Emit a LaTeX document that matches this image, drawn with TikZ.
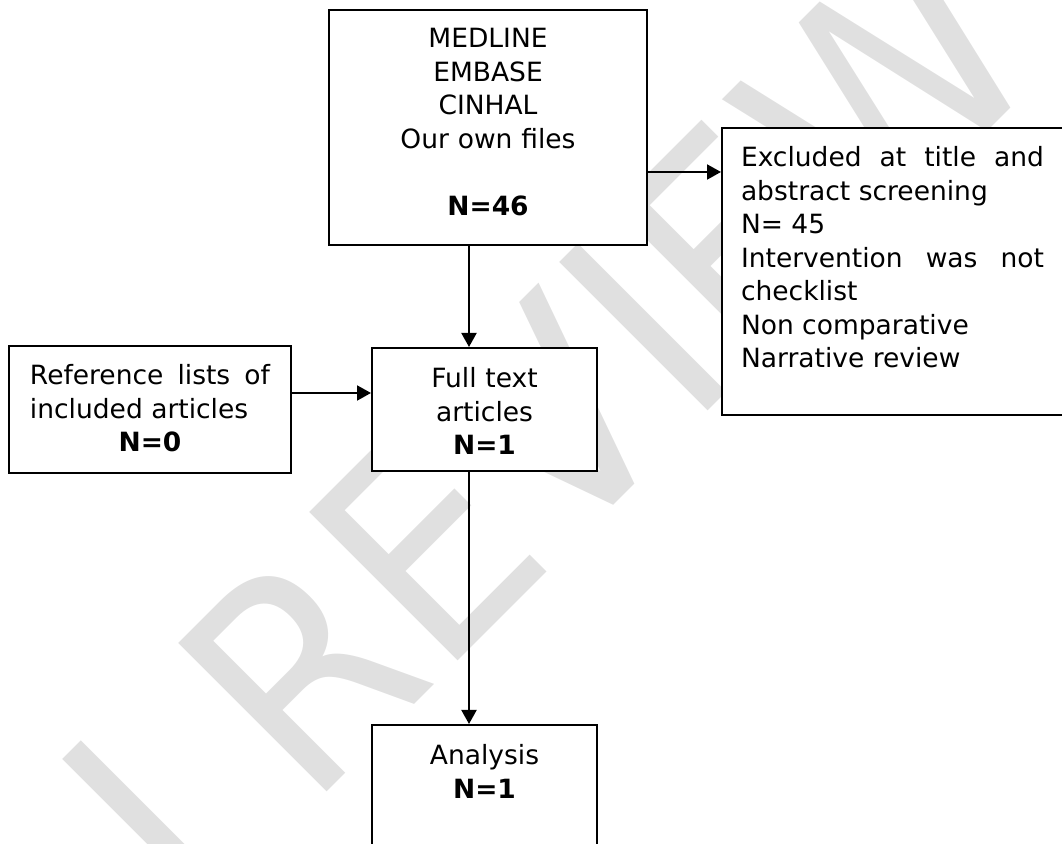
\documentclass[tikz,border=0pt]{standalone}
\usepackage{fontspec}
\setmainfont{DejaVu Sans}
\newfontfamily\waterfont[FakeStretch=0.93]{DejaVu Sans}
\usetikzlibrary{arrows.meta, positioning}
\definecolor{cWater}{HTML}{E0E0E0}

\begin{document}
\begin{tikzpicture}[
  box/.style={draw, line width=1pt, fill=white, inner xsep=0pt, inner ysep=0pt,
    font=\fontsize{13.25pt}{16.75pt}\selectfont},
  arr/.style={-{Triangle[length=7pt, width=7.5pt]}, line width=1pt},
  wmark/.style={text=cWater, inner sep=0pt, anchor=base west, rotate=45,
    font=\waterfont\fontsize{144pt}{144pt}\selectfont}
]
\useasboundingbox (0,0) rectangle (531pt,-422pt);
% watermark behind the boxes
\node[wmark] (water) at (96pt,-463.5pt) {I REVIEW};

\node[box, align=center, text width=150pt, minimum width=159pt,
  text height=18.85pt, text depth=98.65pt] (src) at (244pt,-63.75pt)
  {MEDLINE\\EMBASE\\CINHAL\\Our own files\\[16.75pt]\textbf{N=46}};
\node[box, align=justify, text width=151.5pt, minimum width=170.5pt,
  text height=19.35pt, text depth=124.15pt, right=36.5pt of src, yshift=-72pt] (excl)
  {Excluded at title and abstract screening\\N= 45\\Intervention was not checklist\\Non comparative\\Narrative review};
\node[box, align=center, text width=105pt, minimum width=112.5pt,
  text height=19.85pt, text depth=41.65pt, below=50.5pt of src, xshift=-1.75pt] (full)
  {Full text\\articles\\\textbf{N=1}};
\node[box, align=justify, text width=120pt, minimum width=141pt,
  text height=19.35pt, text depth=44.15pt, left=39.5pt of full] (refl)
  {Reference lists of included articles\par{\centering\textbf{N=0}\par}};
\node[box, align=center, text width=105pt, minimum width=112.5pt,
  text height=19.85pt, text depth=41.65pt, below=126pt of full] (anal)
  {Analysis\\\textbf{N=1}};

\draw[arr] ([yshift=-22.25pt]src.east) -- ([yshift=-22.25pt]src.east -| excl.west);
\draw[arr] ([xshift=-9.5pt]src.south) -- ([xshift=-9.5pt]src.south |- full.north);
\draw[arr] ([yshift=8.25pt]refl.east) -- ([yshift=8.25pt]refl.east -| full.west);
\draw[arr] ([xshift=-7.75pt]full.south) -- ([xshift=-7.75pt]full.south |- anal.north);
\end{tikzpicture}
\end{document}
